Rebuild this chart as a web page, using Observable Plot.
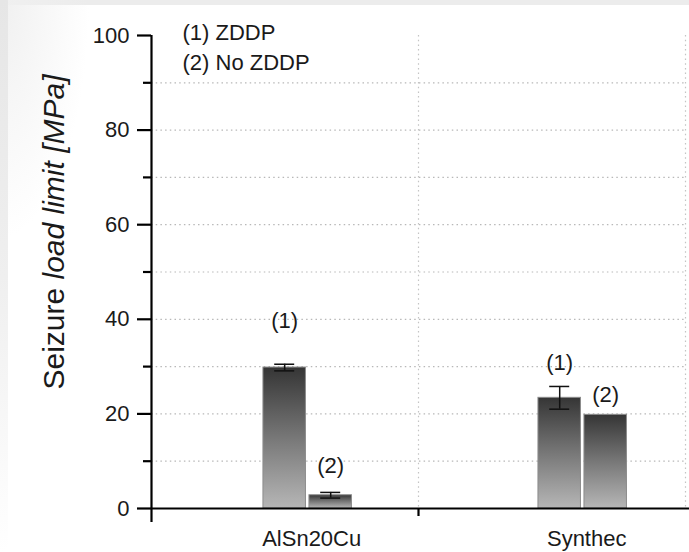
<!DOCTYPE html>
<html>
<head>
<meta charset="utf-8">
<script src="https://cdn.jsdelivr.net/npm/d3@7"></script>
<script src="https://cdn.jsdelivr.net/npm/@observablehq/plot@0.6"></script>
<style>
  html, body { margin: 0; padding: 0; background: #ffffff; }
  #wrap { position: relative; width: 689px; height: 552px; overflow: hidden; background: #ffffff; }
  #topband { position: absolute; left: 0; top: 0; width: 689px; height: 5px; background: #ececec; }
  #leftband { position: absolute; left: 0; top: 0; width: 8px; height: 552px;
    background: linear-gradient(to bottom, #e6e6e6 0%, #efefef 50%, #ffffff 100%); }
  #cornerglow { position: absolute; left: 0; top: 0; width: 90px; height: 240px;
    background: radial-gradient(ellipse at top left, #f0f0f0 0%, rgba(255,255,255,0) 70%); }
  #chart { position: absolute; left: 0; top: 0; }
</style>
</head>
<body>
<div id="wrap">
  <div id="topband"></div>
  <div id="cornerglow"></div>
  <div id="leftband"></div>
  <div id="chart"></div>
</div>
<script>
// ---- data ----
const categories = ["AlSn20Cu", "Synthec"];
const seriesTags = ["(1)", "(2)"];
const legendLines = ["(1) ZDDP", "(2) No ZDDP"];
const zddpValues = [29.8, 23.4];
const zddpErrors = [0.7, 2.4];
const noZddpValues = [2.8, 19.8];
const noZddpErrors = [0.6, 0];
const zddpTagLevel = [39.7, 30.7];
const noZddpTagLevel = [8.9, 23.9];
const yTicks = [0, 20, 40, 60, 80, 100];
const yMinorTicks = [10, 30, 50, 70, 90];
const yGrid = [10, 20, 30, 40, 50, 60, 70, 80, 90];
const xBoundaries = [1, 2];
const yTitle = ["Seizure", " load limit [MPa]"];

// ---- layout constants (style, not data) ----
const GROUP0 = 0.585, GROUP_STEP = 1.03;
const BAR_W = 42.5 / 267, GAP = 3.5 / 267, CAP = 10 / 267;

const rows = categories.flatMap((cat, i) => [
  {cat, i, s: 0, tag: seriesTags[0], value: zddpValues[i], err: zddpErrors[i], tagAt: zddpTagLevel[i]},
  {cat, i, s: 1, tag: seriesTags[1], value: noZddpValues[i], err: noZddpErrors[i], tagAt: noZddpTagLevel[i]}
]);
const groupCenter = (i) => GROUP0 + GROUP_STEP * i;
const barCenter = (d) => groupCenter(d.i) + (d.s === 0 ? -1 : 1) * (GAP / 2 + BAR_W / 2);
const errRows = rows.filter(d => d.err > 0);

const defs = () => {
  const g = d3.create("svg:defs");
  const lg = g.append("linearGradient").attr("id", "barGrad")
    .attr("x1", 0).attr("y1", 0).attr("x2", 0).attr("y2", 1);
  lg.append("stop").attr("offset", "0%").attr("stop-color", "#353535");
  lg.append("stop").attr("offset", "50%").attr("stop-color", "#777777");
  lg.append("stop").attr("offset", "100%").attr("stop-color", "#b6b6b6");
  return g.node();
};

const font = "'Liberation Sans', Arial, Helvetica, sans-serif";
const ink = "#1a1a1a";

const chart = Plot.plot({
  width: 689,
  height: 552,
  marginLeft: 151,
  marginRight: 4,
  marginTop: 35,
  marginBottom: 44,
  style: {background: "transparent", fontFamily: font, fontSize: "22px", color: ink},
  x: {domain: [0, 2], axis: null},
  y: {domain: [0, 100], label: null},
  marks: [
    defs,
    // dotted grid
    Plot.ruleY(yGrid, {stroke: "#b8b8b8", strokeWidth: 1.2, strokeDasharray: "1.5,3.2"}),
    Plot.ruleX(xBoundaries, {stroke: "#c4c4c4", strokeWidth: 1.2, strokeDasharray: "1.5,3.2"}),
    // bars
    Plot.rectY(rows, {
      x1: d => barCenter(d) - BAR_W / 2,
      x2: d => barCenter(d) + BAR_W / 2,
      y1: 0,
      y2: "value",
      fill: "url(#barGrad)",
      stroke: "#8c8c8c",
      strokeWidth: 1
    }),
    // error bars
    Plot.ruleX(errRows, {x: barCenter, y1: d => d.value - d.err, y2: d => d.value + d.err, stroke: "#111", strokeWidth: 1.5}),
    Plot.ruleY(errRows, {y: d => d.value + d.err, x1: d => barCenter(d) - CAP, x2: d => barCenter(d) + CAP, stroke: "#111", strokeWidth: 1.5}),
    Plot.ruleY(errRows, {y: d => d.value - d.err, x1: d => barCenter(d) - CAP, x2: d => barCenter(d) + CAP, stroke: "#111", strokeWidth: 1.5}),
    // series tags above bars
    Plot.text(rows, {x: barCenter, y: "tagAt", text: "tag", fontSize: 22, fill: ink, lineAnchor: "middle"}),
    // x axis line and ticks
    Plot.ruleY([0], {x1: 0, x2: 2.02, stroke: "#000", strokeWidth: 2.2}),
    Plot.ruleX([1], {y1: 0, y2: 0, insetBottom: -8, stroke: "#000", strokeWidth: 2.2}),
    // category labels
    Plot.text(categories, {x: (d, i) => groupCenter(i), y: 0, text: d => d, dy: 30, dx: 4, fontSize: 22, fill: ink, lineAnchor: "middle"}),
    // y axis
    Plot.ruleX([0], {insetBottom: -14, stroke: "#000", strokeWidth: 2.2}),
    Plot.axisY({ticks: yTicks, tickSize: 14, tickPadding: 8, fontSize: 22, stroke: "#000", fill: ink, strokeWidth: 2.2, label: null}),
    Plot.axisY({ticks: yMinorTicks, tickSize: 8, tickFormat: () => "", stroke: "#000", strokeWidth: 2.2, label: null}),
    // legend text
    Plot.text([legendLines.join("\n")], {frameAnchor: "top-left", textAnchor: "start", lineAnchor: "top", dx: 31, dy: -17, lineHeight: 1.36, fontSize: 22, fill: ink}),
    // y title
    Plot.text([yTitle.join("")], {frameAnchor: "left", rotate: -90, textAnchor: "middle", dx: -97, dy: -40, fontSize: 30, fill: ink, lineAnchor: "middle"})
  ]
});

document.getElementById("chart").appendChild(chart);

// style the y title: "Seizure" upright, rest italic
d3.select(chart).selectAll("text").each(function () {
  if (this.textContent === yTitle.join("")) {
    const t = d3.select(this);
    t.text(null);
    t.append("tspan").text(yTitle[0]);
    t.append("tspan").attr("font-style", "italic").text(yTitle[1]);
  }
});
</script>
</body>
</html>
